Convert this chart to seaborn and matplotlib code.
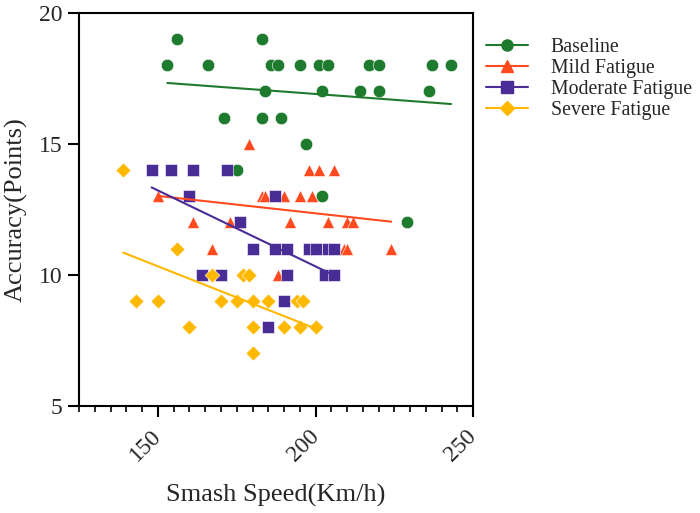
import numpy as np
import pandas as pd
import matplotlib
matplotlib.use("Agg")
import matplotlib.pyplot as plt
from matplotlib.lines import Line2D
from matplotlib.ticker import MultipleLocator
import seaborn as sns

# data (speed km/h, accuracy points)
baseline_x = [156, 183, 153, 166, 186, 188, 195, 201, 204, 217, 220, 237, 243,
              184, 202, 214, 220, 236, 171, 183, 189, 197, 175, 202, 229]
baseline_y = [19, 19, 18, 18, 18, 18, 18, 18, 18, 18, 18, 18, 18,
              17, 17, 17, 17, 17, 16, 16, 16, 15, 14, 13, 12]

mild_x = [179, 161, 198, 201, 206, 150, 183, 184, 190, 195, 199,
          161, 173, 176, 192, 204, 210, 212, 167, 209, 210, 224, 188]
mild_y = [15, 14, 14, 14, 14, 13, 13, 13, 13, 13, 13,
          12, 12, 12, 12, 12, 12, 12, 11, 11, 11, 11, 10]

moderate_x = [148, 154, 161, 172, 160, 187, 176, 180, 187, 191, 198, 200, 204, 206,
              164, 170, 191, 203, 206, 190, 185]
moderate_y = [14, 14, 14, 14, 13, 13, 12, 11, 11, 11, 11, 11, 11, 11,
              10, 10, 10, 10, 10, 9, 8]

severe_x = [139, 156, 167, 177, 179, 143, 150, 170, 175, 180, 185, 194, 196,
            160, 180, 190, 195, 200, 180]
severe_y = [14, 11, 10, 10, 10, 9, 9, 9, 9, 9, 9, 9, 9,
            8, 8, 8, 8, 8, 7]

groups = ["Baseline", "Mild Fatigue", "Moderate Fatigue", "Severe Fatigue"]
colors = ["#1E7A2C", "#FF4A1F", "#4A2C96", "#FFB800"]
markers = ["o", "^", "s", "D"]
sizes = [80, 75, 80, 58]

df = pd.concat([
    pd.DataFrame({"speed": baseline_x, "acc": baseline_y, "group": groups[0]}),
    pd.DataFrame({"speed": mild_x, "acc": mild_y, "group": groups[1]}),
    pd.DataFrame({"speed": moderate_x, "acc": moderate_y, "group": groups[2]}),
    pd.DataFrame({"speed": severe_x, "acc": severe_y, "group": groups[3]}),
])

sns.set_style("ticks")
serif = ["Liberation Serif", "DejaVu Serif"]
plt.rcParams["font.family"] = serif

fig = plt.figure(figsize=(7, 5.13), dpi=100)
ax = fig.add_axes([0.113, 0.209, 0.563, 0.766])

for g, c, m, s in zip(groups, colors, markers, sizes):
    sub = df[df["group"] == g]
    sns.scatterplot(data=sub, x="speed", y="acc", color=c, marker=m, s=s,
                    edgecolor="white", linewidth=0.4, ax=ax, zorder=3)
    sns.regplot(data=sub, x="speed", y="acc", scatter=False, ci=None,
                color=c, line_kws={"lw": 1.5, "zorder": 4}, ax=ax)

ax.set_xlim(125, 250)
ax.set_ylim(5, 20)
ax.set_xticks([150, 200, 250])
ax.xaxis.set_minor_locator(MultipleLocator(5))
ax.set_yticks([5, 10, 15, 20])

for sp in ax.spines.values():
    sp.set_visible(True)
    sp.set_color("black")
    sp.set_linewidth(1.5)

ax.tick_params(axis="both", which="major", length=8, width=1.5, labelsize=17, color="black")
ax.tick_params(axis="x", which="minor", length=4.5, width=1.2, color="black")
ax.tick_params(axis="x", which="major", pad=12)
ax.tick_params(axis="y", which="major", pad=4)
plt.setp(ax.get_xticklabels(), rotation=45, ha="right", va="center",
         rotation_mode="anchor", family=serif)
plt.setp(ax.get_yticklabels(), family=serif)

ax.set_xlabel("Smash Speed(Km/h)", fontsize=19)
ax.set_ylabel("Accuracy(Points)", fontsize=19)
ax.xaxis.set_label_coords(0.5, -0.2)
ax.yaxis.set_label_coords(-0.13, 0.5)

handles = [Line2D([0], [0], color=c, marker=m, lw=1.5, markersize=8 if m != "D" else 7)
           for c, m in zip(colors, markers)]
fig.legend(handles, groups, loc="upper left", bbox_to_anchor=(0.669, 0.96),
           frameon=False, fontsize=14.3, handlelength=2.1, handletextpad=1.15,
           labelspacing=0.1)

fig.savefig("out.png", dpi=100)
